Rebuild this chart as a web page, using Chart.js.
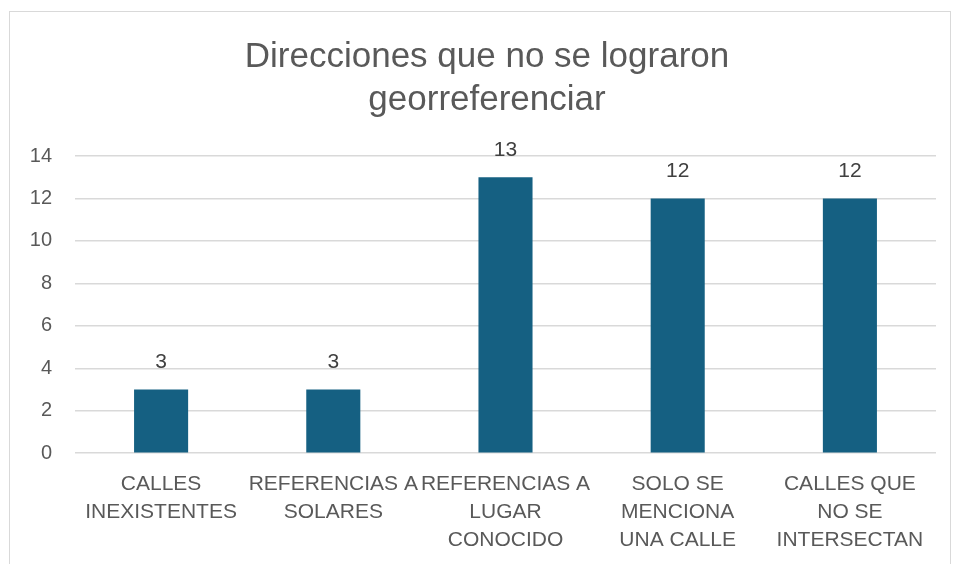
<!DOCTYPE html>
<html>
<head>
<meta charset="utf-8">
<script src="https://cdn.jsdelivr.net/npm/chart.js@4"></script>
<style>
  html, body { margin: 0; padding: 0; background: #ffffff; }
  #wrap { position: relative; width: 955px; height: 564px; overflow: hidden; }
  #frame { position: absolute; left: 9px; top: 11px; width: 942px; height: 600px; border: 1px solid #d9d9d9; box-sizing: border-box; }
  canvas { position: absolute; left: 0; top: 0; }
</style>
</head>
<body>
<div id="wrap">
  <div id="frame"></div>
  <canvas id="c" width="955" height="564"></canvas>
</div>
<script>
const titleLines = ["Direcciones que no se lograron", "georreferenciar"];
const categories = [
  ["CALLES", "INEXISTENTES"],
  ["REFERENCIAS A", "SOLARES"],
  ["REFERENCIAS A", "LUGAR", "CONOCIDO"],
  ["SOLO SE", "MENCIONA", "UNA CALLE"],
  ["CALLES QUE", "NO SE", "INTERSECTAN"]
];
const values = [3, 3, 13, 12, 12];
const yTicks = [0, 2, 4, 6, 8, 10, 12, 14];

const FONT = "'Liberation Sans', Arial, sans-serif";

const dataLabels = {
  id: 'dataLabels',
  afterDatasetsDraw(chart) {
    const ctx = chart.ctx;
    const meta = chart.getDatasetMeta(0);
    ctx.save();
    ctx.font = "21px " + FONT;
    ctx.fillStyle = "#404040";
    ctx.textAlign = "center";
    ctx.textBaseline = "middle";
    meta.data.forEach((bar, i) => {
      ctx.fillText(String(values[i]), bar.x, bar.y - 27);
    });
    ctx.restore();
  }
};

const titleDraw = {
  id: 'titleDraw',
  afterDraw(chart) {
    const ctx = chart.ctx;
    ctx.save();
    ctx.font = "35px " + FONT;
    ctx.fillStyle = "#595959";
    ctx.textAlign = "center";
    ctx.textBaseline = "alphabetic";
    titleLines.forEach((t, i) => ctx.fillText(t, 487, 67 + i * 43));
    ctx.restore();
  }
};

new Chart(document.getElementById('c'), {
  type: 'bar',
  data: {
    labels: categories,
    datasets: [{
      data: values,
      backgroundColor: '#156082',
      borderWidth: 0,
      barPercentage: 0.314,
      categoryPercentage: 1.0
    }]
  },
  options: {
    responsive: false,
    animation: false,
    layout: { padding: { top: 156, right: 19, bottom: -7, left: 0 } },
    plugins: {
      legend: { display: false },
      tooltip: { enabled: false },
      title: { display: false }
    },
    scales: {
      x: {
        grid: { display: false, drawTicks: false },
        border: { display: false },
        ticks: {
          color: '#595959',
          font: { family: FONT, size: 21, lineHeight: 1.33 },
          padding: 17,
          maxRotation: 0,
          autoSkip: false
        }
      },
      y: {
        min: 0,
        max: 14,
        afterBuildTicks(scale) { scale.ticks = yTicks.map(v => ({ value: v })); },
        afterFit(scale) { scale.width = 75; },
        grid: { color: '#d9d9d9', lineWidth: 1.5, drawTicks: false },
        border: { display: false },
        ticks: {
          color: '#595959',
          font: { family: FONT, size: 20 },
          padding: 23
        }
      }
    }
  },
  plugins: [dataLabels, titleDraw]
});
</script>
</body>
</html>
